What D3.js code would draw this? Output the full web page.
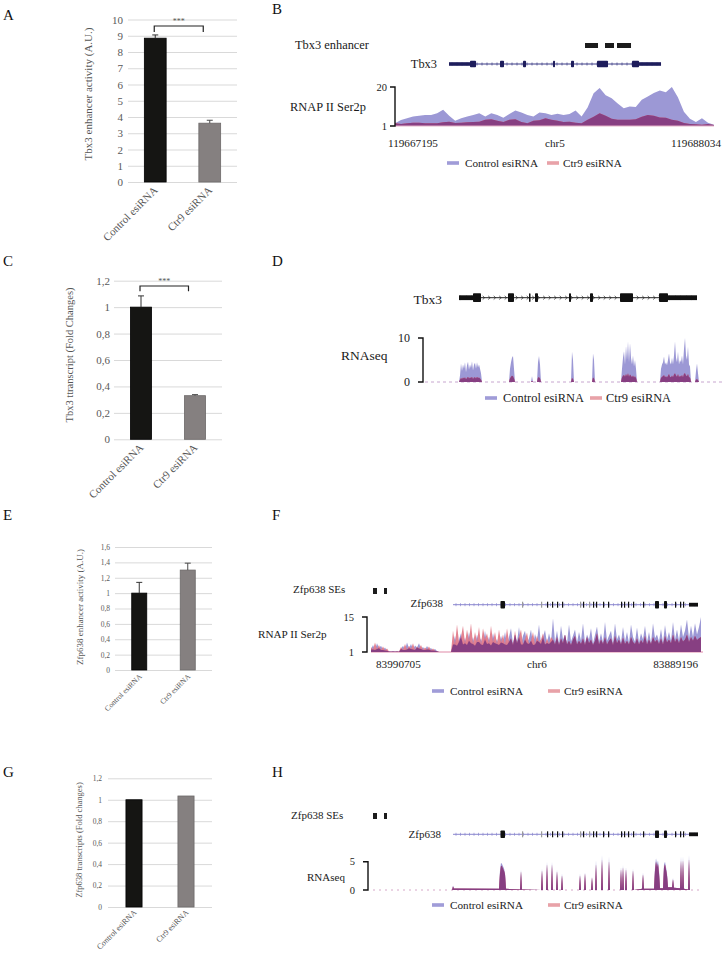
<!DOCTYPE html>
<html><head><meta charset="utf-8">
<script src="https://cdn.jsdelivr.net/npm/d3@7"></script>
<style>body{margin:0;background:#fff}</style>
</head><body>
<svg id="fig" width="722" height="953"></svg>
<script>
// ================= DATA =================
const conditions = ["Control esiRNA", "Ctr9 esiRNA"];

// Panel A
const tbx3EnhancerActivity = [8.85, 3.62];
const tbx3EnhancerErr = [0.2, 0.18];
const tbx3EnhancerTicks = [0,1,2,3,4,5,6,7,8,9,10];
// Panel C
const tbx3Transcript = [1.0, 0.33];
const tbx3TranscriptErr = [0.085, 0.008];
const tbx3TranscriptTicks = [0,0.2,0.4,0.6,0.8,1,1.2];
// Panel E
const zfpEnhancerActivity = [1.0, 1.30];
const zfpEnhancerErr = [0.14, 0.09];
const zfpEnhancerTicks = [0,0.2,0.4,0.6,0.8,1,1.2,1.4,1.6];
// Panel G
const zfpTranscript = [1.0, 1.035];
const zfpTranscriptTicks = [0,0.2,0.4,0.6,0.8,1,1.2];

// Panel B (RNAP II Ser2p, Tbx3 locus, chr5)
const tbx3Region = [119667195, 119688034];
const tbx3SerCtrl = [2.3,3.9,4.8,5.6,6.0,6.4,6.4,7.2,8.9,6.0,3.5,4.8,5.6,6.4,7.2,5.6,7.2,6.4,5.0,6.8,8.5,7.6,6.4,5.6,7.6,7.2,6.4,7.0,6.4,6.8,8.5,5.6,10.0,17.0,19.5,16.0,14.5,12.0,9.7,10.5,10.2,13.8,15.4,17.1,18.3,17.5,20.0,15.0,8.0,4.5,3.0,4.8,2.6,1.6];
const tbx3SerCtr9 = [2.6,2.0,2.4,2.6,2.6,2.3,2.3,2.3,2.8,3.1,2.5,2.6,2.8,3.0,3.1,4.0,4.3,3.5,3.0,4.0,4.3,3.0,2.4,3.5,3.8,4.8,4.0,3.5,3.0,3.1,2.6,2.3,4.0,5.5,7.2,6.0,4.5,4.0,4.0,4.0,4.3,5.5,6.4,6.0,5.2,5.0,4.0,3.5,2.5,2.0,1.8,1.6,2.0,1.5];
const tbx3Enhancers = [[119679608,119680457],[119680914,119681502],[119681698,119682613]];
const tbx3GeneSpanB = [119670723, 119684573];
const tbx3ExonsB = [[119670723,119672095,'u'],[119672095,119672487,'c'],[119674055,119674316,'c'],[119675557,119675753,'c'],[119677517,119677648,'c'],[119678693,119678889,'c'],[119680391,119681110,'c'],[119682678,119683136,'c'],[119683136,119684573,'u']];

// Panel D (RNAseq, Tbx3)
const tbx3RnaPos = [0,36,37,38,39,40,41,42,43,44,45,46,47,48,49,50,51,52,53,54,55,56,57,58,59,86,87,88,89,90,91,92,108,109,110,114,115,116,117,118,148,149,150,151,169,170,171,172,198,199,200,201,202,203,204,205,206,207,208,209,210,211,212,213,214,237,238,239,240,241,242,243,244,245,246,247,248,249,250,251,252,253,254,255,256,257,258,259,260,261,262,263,264,265,266,267,268,272,273,274,275,276,299];
const tbx3RnaCtrl = [0,0,1.5,4.2,2.5,4.0,3.0,4.5,2.2,3.8,4.6,2.8,4.0,3.2,4.7,2.6,3.9,4.4,3.0,4.5,3.3,4.0,3.0,2.0,0, 0,3.0,4.5,5.5,5.9,3.0,0, 0,1.3,0, 0,4.5,5.9,4.0,0, 0,6.9,5.0,0, 0,6.5,5.0,0, 0,3.0,5.5,7.0,4.0,8.2,5.0,9.2,4.5,8.8,5.5,4.0,6.0,3.5,5.0,3.0,0, 0,3.0,4.0,4.5,5.8,4.0,4.5,3.8,5.0,6.5,4.5,4.0,5.5,4.0,6.0,9.2,5.5,4.5,6.9,4.0,5.0,4.5,6.0,4.0,7.5,10,6.0,5.0,8.0,4.0,3.5,0, 0,2.5,4.2,2.0,0, 0];
const tbx3RnaCtr9 = [0,0,0.5,0.9,0.7,1.0,0.8,1.1,0.6,0.9,1.2,0.8,1.0,0.9,1.2,0.7,1.0,1.1,0.8,1.2,0.9,1.0,0.8,0.5,0, 0,0.8,1.2,1.4,1.3,0.8,0, 0,0.3,0, 0,1.0,1.1,0.8,0, 0,0.9,0.7,0, 0,1.0,0.8,0, 0,1.0,1.4,1.6,1.2,1.8,1.3,2.0,1.2,1.7,1.4,1.1,1.5,1.0,1.3,0.9,0, 0,0.9,1.2,1.3,1.6,1.1,1.3,1.0,1.4,1.8,1.2,1.1,1.5,1.1,1.7,2.0,1.5,1.2,1.8,1.1,1.4,1.2,1.6,1.1,1.9,2.0,1.5,1.3,1.8,1.1,1.0,0, 0,0.5,0.7,0.4,0, 0];
const tbx3GeneSpanD = [36, 274];
const tbx3ExonsD = [[36,50,'u'],[50,58,'c'],[85,91,'c'],[106,107.5,'c'],[112,115,'c'],[146,148,'c'],[167,170,'c'],[197,210,'c'],[236,245,'c'],[245,274,'u']];

// Panel F (RNAP II Ser2p, Zfp638 locus, chr6) - 2-unit bins
const zfpSerCtrl = [2.0,3.8,1.8,4.5,2.5,3.5,1.8,2.8,1.5,
  1.3,1.2,1.4,1.2,1.3,1.1,
  2.2,3.5,1.8,4.8,2.5,4.2,2.0,3.6,2.8,4.5,2.2,3.0,1.8,3.4,2.0,2.6,1.6,2.2,1.4,
  1.0,1.0,1.0,1.0,1.0,1.0,1.0,
  4.0,7.5,3.5,6.0,8.5,4.0,6.8,3.8,9.0,4.5,7.0,3.5,8.0,5.0,6.5,3.8,9.5,4.2,7.2,3.6,8.6,4.5,6.2,3.8,7.5,
  4.5,9.0,3.8,7.0,10.5,4.2,8.0,5.0,11.0,4.0,7.5,9.5,4.5,6.5,10.0,3.8,8.2,5.5,12.0,4.2,7.0,9.8,4.6,8.5,5.0,
  14.5,5.0,9.5,4.2,11.5,6.0,8.0,4.5,12.0,5.2,7.5,10.0,4.8,9.0,5.5,12.5,4.6,8.0,6.0,10.5,4.4,7.8,11.2,5.0,8.5,4.8,13.0,5.5,7.5,9.5,4.5,12.5,6.0,8.0,4.8,11.0,5.2,9.0,4.6,12.0,7.0,5.0,10.8,4.8,8.5,6.0,11.5,5.0,9.0,4.6,12.5,6.5,8.0,5.2,10.2,4.8,11.8,6.0,9.0,5.5,13.0,6.0,10.0,5.5,12.0,7.0,9.5,14.0,6.5,11.5,7.0,12.5,8.0,11.0,15.0];
const zfpSerCtr9 = [3.0,2.0,4.8,2.2,3.8,1.8,3.2,1.6,2.4,
  1.2,1.1,1.2,1.1,1.2,1.1,
  3.0,1.8,4.2,2.0,3.5,2.2,4.5,1.8,3.2,2.4,3.8,1.8,2.8,2.0,3.2,1.6,2.4,1.5,1.3,
  1.0,1.0,1.0,1.0,1.0,1.0,1.0,
  9.5,4.0,12.0,5.0,7.0,11.5,4.5,10.0,5.5,12.5,4.2,9.0,5.0,11.0,4.0,10.5,6.0,8.5,4.5,11.5,5.0,9.0,4.2,10.0,4.8,
  8.0,4.0,10.5,5.0,6.5,3.8,9.5,4.5,7.0,10.0,4.0,6.0,8.8,4.2,5.5,9.0,4.0,7.5,5.0,6.0,8.5,4.0,6.5,4.2,7.0,
  6.0,4.0,7.0,3.8,6.5,4.5,8.0,4.0,5.5,3.8,6.0,7.5,4.0,5.5,4.2,6.5,3.8,7.0,4.5,6.0,3.8,5.5,8.5,4.0,6.0,4.2,7.0,4.0,5.5,6.5,3.8,7.5,4.5,6.0,4.0,6.8,4.2,5.5,4.0,7.0,5.0,4.2,6.5,4.0,5.8,4.5,7.5,4.0,6.0,4.2,7.0,5.0,6.0,4.2,6.5,4.0,7.5,4.8,6.0,4.5,8.0,5.0,6.5,4.5,7.0,5.2,6.0,8.0,5.0,7.0,5.5,7.5,5.8,6.5,7.0];
const zfpBinSize = 2;
const zfpGeneSpan = [82, 327];
const zfpExons = [[129.5,134,'c'],[151,152,'g'],[170,171,'g'],[176,177,'t'],[181,182,'t'],[186,187,'t'],[191,192,'t'],[209,210,'g'],[212,213,'t'],[218,219,'g'],[222,223,'t'],[225,226,'t'],[232,233,'t'],[237,238,'t'],[250,251,'t'],[253,254,'t'],[257,258,'t'],[262,263,'t'],[272,273,'t'],[284,288,'c'],[293,296,'c'],[304,305,'t'],[309,310,'t'],[312,313,'t'],[318,327,'u']];
const zfpSEs = [[2,6],[13,16]];

// Panel H (RNAseq, Zfp638)
const zfpRnaPos = [0,81,82,83,128,129,130,131,132,133,134,135,149,150,151,170,171,172,175,176,177,180,181,182,185,186,187,190,191,192,208,209,210,213,214,215,220,221,222,224,225,226,230,231,232,237,238,239,249,250,251,252,253,254,255,256,261,262,263,271,272,273,283,284,285,286,287,288,289,292,293,294,295,296,297,301,302,303,309,310,311,312,313,317,318,319,332];
const zfpRnaCtrl = [0,0,0.8,0.25,0.2,3.5,4.8,4.6,4.2,3.8,3.0,0.2,0.1,3.6,0.1,0,3.8,0,0,5.0,0,0,5.0,0,0,3.6,0,0,2.9,0,0,2.9,0,0,3.2,0,0,2.4,0,0,5.3,0,0,6.2,0,0,5.9,0,0,4.1,0,4.4,0,0,4.1,0,0,3.8,0,0.2,3.1,0.2,0.2,4.0,5.6,4.5,5.2,3.5,0.3,0.3,4.5,5.0,4.0,3.0,0.5,0.5,2.1,0.4,0.3,5.9,0.3,5.9,0.2,0.1,6.2,0,0];
const zfpRnaCtr9 = [0,0,0.6,0.25,0.2,3.0,4.3,4.2,3.8,3.4,2.8,0.2,0.1,3.3,0.1,0,3.5,0,0,4.6,0,0,4.5,0,0,3.3,0,0,2.6,0,0,2.6,0,0,2.9,0,0,2.2,0,0,4.6,0,0,5.4,0,0,5.2,0,0,3.7,0,4.0,0,0,3.7,0,0,3.5,0,0.2,2.8,0.2,0.2,3.5,5.0,4.0,4.6,3.0,0.3,0.3,4.0,4.5,3.6,2.6,0.5,0.5,1.9,0.4,0.3,5.2,0.3,5.3,0.2,0.1,5.5,0,0];

// ================= STYLE =================
const SERIF = '"Liberation Serif","Times New Roman",serif';
const barFill = ['#151513', '#858080'];
const barStroke = ['#000000', '#6d6969'];
const COL_CTRL = '#9c98d5', COL_CTR9 = '#e07585', COL_OVER = '#873f82';
const LEG_CTRL = '#a09cd8', LEG_CTR9 = '#e8a2a8';

const svg = d3.select('#fig');
svg.append('rect').attr('width',722).attr('height',953).attr('fill','#fff');

function txt(g, x, y, s, fs, opt={}) {
  return g.append('text').attr('x', x).attr('y', y).text(s)
    .attr('font-family', SERIF).attr('font-size', fs)
    .attr('fill', opt.fill || '#1a1a1a')
    .attr('text-anchor', opt.anchor || 'start');
}

// panel letters
[['A',3,20],['B',272,14],['C',3,266],['D',272,266],['E',3,520],['F',272,520],['G',3,777],['H',272,777]]
  .forEach(d => txt(svg, d[1], d[2], d[0], 15, {fill:'#111'}));

// ================= BAR CHARTS =================
function barPanel(o) {
  const g = svg.append('g');
  const y = d3.scaleLinear().domain([0, d3.max(o.ticks)]).range([o.yb, o.yt]);
  const x = d3.scaleBand().domain(conditions).range([o.xl, o.xr]).paddingInner(o.pad).paddingOuter(o.pad/2);
  const ax = g.append('g').attr('transform', `translate(${o.xl},0)`)
    .call(d3.axisLeft(y).tickValues(o.ticks).tickSize(-(o.xr - o.xl)).tickPadding(o.tickPad)
      .tickFormat(d => String(d).replace('.', ',')));
  ax.select('.domain').remove();
  ax.selectAll('line').attr('stroke', '#d9d9d9').attr('stroke-width', 1);
  ax.selectAll('text').attr('font-family', SERIF).attr('font-size', o.tickFont).attr('fill', '#595959');
  g.selectAll('rect.bar').data(o.values).join('rect').attr('class','bar')
    .attr('x', (d,i) => x(conditions[i])).attr('width', x.bandwidth())
    .attr('y', d => y(d)).attr('height', d => y(0) - y(d))
    .attr('fill', (d,i) => barFill[i]).attr('stroke', (d,i) => barStroke[i]).attr('stroke-width', 0.8);
  if (o.errors) {
    o.values.forEach((v,i) => {
      const cx = x(conditions[i]) + x.bandwidth()/2;
      const col = i === 0 ? '#333' : '#4a4a4a';
      g.append('line').attr('x1',cx).attr('x2',cx).attr('y1',y(v)).attr('y2',y(v+o.errors[i])).attr('stroke',col).attr('stroke-width',1);
      g.append('line').attr('x1',cx-3).attr('x2',cx+3).attr('y1',y(v+o.errors[i])).attr('y2',y(v+o.errors[i])).attr('stroke',col).attr('stroke-width',1);
    });
  }
  conditions.forEach((c,i) => {
    const cx = x(c) + x.bandwidth()/2;
    g.append('text').attr('transform', `translate(${cx + o.xlDx},${y(0) + o.xlDy}) rotate(-45)`)
      .attr('text-anchor','end').attr('font-family', SERIF).attr('font-size', o.xFont).attr('fill', '#555').text(c);
  });
  g.append('text').attr('transform', `translate(${o.ylX},${o.ylY}) rotate(-90)`)
    .attr('text-anchor','middle').attr('font-family', SERIF).attr('font-size', o.yFont).attr('fill','#555').text(o.ylabel);
  if (o.sig) {
    const x1 = x(conditions[0]) + x.bandwidth()/2 - 1;
    const x2 = x(conditions[1]) + x.bandwidth()/2 - 6.5;
    const yb = y(o.sig[0]), yd = y(o.sig[1]);
    g.append('path').attr('d', `M${x1},${yd}V${yb}H${x2}V${yd}`).attr('fill','none').attr('stroke','#222').attr('stroke-width',1.2);
    txt(g, (x1+x2)/2, yb - 2, '***', 8, {anchor:'middle', fill:'#555'});
  }
}

barPanel({ticks: tbx3EnhancerTicks, values: tbx3EnhancerActivity, errors: tbx3EnhancerErr,
  yb:182, yt:19.5, xl:128, xr:237, pad:0.6, tickPad:5, tickFont:11, xFont:11, xlDx:3, xlDy:9,
  ylabel:'Tbx3 enhancer activity (A.U.)', ylX:92, ylY:94, yFont:11, sig:[9.6, 9.23]});
barPanel({ticks: tbx3TranscriptTicks, values: tbx3Transcript, errors: tbx3TranscriptErr,
  yb:439.3, yt:280.7, xl:114, xr:222, pad:0.61, tickPad:4, tickFont:11, xFont:11, xlDx:3, xlDy:9,
  ylabel:'Tbx3 ttranscript (Fold Changes)', ylX:73, ylY:355, yFont:10.5, sig:[1.16, 1.12]});
barPanel({ticks: zfpEnhancerTicks, values: zfpEnhancerActivity, errors: zfpEnhancerErr,
  yb:670, yt:547, xl:115, xr:212, pad:0.69, tickPad:5, tickFont:7.5, xFont:7.5, xlDx:3, xlDy:7,
  ylabel:'Zfp638 enhancer activity (A.U.)', ylX:83, ylY:607, yFont:9});
barPanel({ticks: zfpTranscriptTicks, values: zfpTranscript, errors: null,
  yb:907, yt:778.3, xl:108, xr:212, pad:0.69, tickPad:6, tickFont:7.5, xFont:8, xlDx:3, xlDy:6,
  ylabel:'Zfp638 transcripts (Fold changes)', ylX:82, ylY:840, yFont:8.5});

// ================= GENOME TRACKS =================
function areas(g, xs, ys, pos, ctrl, ctr9, base) {
  const over = ctrl.map((v,i) => Math.min(v, ctr9[i]));
  const mk = arr => d3.area().x((d,i) => xs(pos[i])).y0(ys(base)).y1(d => ys(d))(arr);
  g.append('path').attr('d', mk(ctrl)).attr('fill', COL_CTRL);
  g.append('path').attr('d', mk(ctr9)).attr('fill', COL_CTR9).attr('opacity', 0.9);
  g.append('path').attr('d', mk(over)).attr('fill', COL_OVER);
}
function trackAxis(g, ys, ax, labX, fs) {
  const [lo, hi] = ys.domain();
  g.append('path').attr('d', `M${ax-5},${ys(hi)}H${ax}V${ys(lo)}H${ax-5}`).attr('fill','none').attr('stroke','#111').attr('stroke-width',1.4);
  txt(g, labX, ys(hi), String(hi), fs, {anchor:'end'}).attr('dy','0.35em');
  txt(g, labX, ys(lo), String(lo), fs, {anchor:'end'}).attr('dy','0.35em');
}
function gene(g, xs, yc, span, exons, o) {
  g.append('line').attr('x1', xs(span[0])).attr('x2', xs(span[1])).attr('y1', yc).attr('y2', yc)
    .attr('stroke', o.intron).attr('stroke-width', 1);
  for (let px = xs(span[0]) + 3; px < xs(span[1]) - 2; px += o.step) {
    if (o.chev) g.append('path').attr('d', `M${px-1.3},${yc-1.8}L${px+0.7},${yc}L${px-1.3},${yc+1.8}`).attr('fill','none').attr('stroke', o.intron).attr('stroke-width', 0.7);
    else g.append('line').attr('x1', px).attr('x2', px).attr('y1', yc-1.5).attr('y2', yc+1.5).attr('stroke', o.intron).attr('stroke-width', 0.7);
  }
  exons.forEach(e => {
    const h = o.h[e[2]];
    const col = e[2] === 'g' ? '#9a9a9a' : o.exon;
    g.append('rect').attr('x', xs(e[0])).attr('width', Math.max(1.2, xs(e[1]) - xs(e[0])))
      .attr('y', yc - h/2).attr('height', h).attr('fill', col).attr('rx', e[2] === 'c' ? 0.8 : 0);
  });
}
function legend(g, x1, x2, y, fs) {
  g.append('rect').attr('x', x1).attr('y', y-1.8).attr('width', 12).attr('height', 3.6).attr('fill', LEG_CTRL);
  txt(g, x1 + 18, y + fs*0.33, conditions[0], fs, {fill:'#222'});
  g.append('rect').attr('x', x2).attr('y', y-1.8).attr('width', 12).attr('height', 3.6).attr('fill', LEG_CTR9);
  txt(g, x2 + 16, y + fs*0.33, conditions[1], fs, {fill:'#222'});
}

// ---- Panel B ----
{
  const g = svg.append('g');
  const xs = d3.scaleLinear().domain(tbx3Region).range([395, 714]);
  const ys = d3.scaleLinear().domain([1, 20]).range([126, 87]);
  const pos = tbx3SerCtrl.map((d,i) => tbx3Region[0] + i * (tbx3Region[1]-tbx3Region[0]) / (tbx3SerCtrl.length-1));
  txt(g, 295, 49, 'Tbx3 enhancer', 12.4);
  tbx3Enhancers.forEach(e => g.append('rect').attr('x', xs(e[0])).attr('width', xs(e[1])-xs(e[0])).attr('y', 43).attr('height', 5).attr('fill', '#1c1c1c'));
  txt(g, 437, 68, 'Tbx3', 12.4, {anchor:'end'});
  gene(g, xs, 64, tbx3GeneSpanB, tbx3ExonsB, {intron:'#3d3c86', exon:'#1e1d5c', step:5, chev:false, h:{u:3.6,c:6.5}});
  txt(g, 290, 111, 'RNAP II Ser2p', 12.4);
  areas(g, xs, ys, pos, tbx3SerCtrl, tbx3SerCtr9, 1);
  g.append('line').attr('x1', 395).attr('x2', 714).attr('y1', ys(1)).attr('y2', ys(1)).attr('stroke', '#e4b3c8').attr('stroke-width', 1);
  trackAxis(g, ys, 395, 387, 10.5);
  txt(g, 388, 147, String(tbx3Region[0]), 11.2);
  txt(g, 555, 147, 'chr5', 11.2, {anchor:'middle'});
  txt(g, 721, 147, String(tbx3Region[1]), 11.2, {anchor:'end'});
  legend(g, 447, 547, 163, 11.2);
}

// ---- Panel D ----
{
  const g = svg.append('g');
  const xs = d3.scaleLinear().domain([0, 299]).range([423, 722]);
  const ys = d3.scaleLinear().domain([0, 10]).range([382, 338]);
  txt(g, 442, 304, 'Tbx3', 13.5, {anchor:'end'});
  gene(g, xs, 297.7, tbx3GeneSpanD, tbx3ExonsD, {intron:'#222', exon:'#111', step:5.5, chev:true, h:{u:4.8,c:8.8}});
  txt(g, 341, 360, 'RNAseq', 13.5);
  g.append('line').attr('x1', 425).attr('x2', 722).attr('y1', ys(0)).attr('y2', ys(0)).attr('stroke', '#c7a6cf').attr('stroke-width', 1).attr('stroke-dasharray', '3,3');
  areas(g, xs, ys, tbx3RnaPos, tbx3RnaCtrl, tbx3RnaCtr9, 0);
  trackAxis(g, ys, 423, 410, 12);
  legend(g, 485, 590, 398, 12.4);
}

// ---- Panel F ----
{
  const g = svg.append('g');
  const xs = d3.scaleLinear().domain([0, 332]).range([371, 703]);
  const ys = d3.scaleLinear().domain([1, 15]).range([652, 617]);
  const pos = zfpSerCtrl.map((d,i) => i * zfpBinSize);
  txt(g, 293, 593, 'Zfp638 SEs', 11);
  zfpSEs.forEach(e => g.append('rect').attr('x', xs(e[0])).attr('width', xs(e[1])-xs(e[0])).attr('y', 588).attr('height', 6).attr('fill', '#1c1c1c'));
  txt(g, 443, 607, 'Zfp638', 11, {anchor:'end'});
  gene(g, xs, 604.7, zfpGeneSpan, zfpExons, {intron:'#8a87cf', exon:'#111', step:4.5, chev:false, h:{u:3.8,c:7.5,t:6,g:6}});
  txt(g, 258, 638, 'RNAP II Ser2p', 11.2);
  g.append('line').attr('x1', 371).attr('x2', 703).attr('y1', ys(1)).attr('y2', ys(1)).attr('stroke', '#e08aa8').attr('stroke-width', 1.2);
  areas(g, xs, ys, pos, zfpSerCtrl, zfpSerCtr9, 1);
  trackAxis(g, ys, 367, 354, 10.5);
  txt(g, 376, 668, '83990705', 11.2);
  txt(g, 537, 668, 'chr6', 11.2, {anchor:'middle'});
  txt(g, 698, 668, '83889196', 11.2, {anchor:'end'});
  legend(g, 432, 548, 691, 11.2);
}

// ---- Panel H ----
{
  const g = svg.append('g');
  const xs = d3.scaleLinear().domain([0, 332]).range([371, 703]);
  const ys = d3.scaleLinear().domain([0, 5]).range([890, 861.7]);
  txt(g, 291, 819, 'Zfp638 SEs', 11);
  zfpSEs.forEach(e => g.append('rect').attr('x', xs(e[0])).attr('width', xs(e[1])-xs(e[0])).attr('y', 813).attr('height', 6).attr('fill', '#1c1c1c'));
  txt(g, 441, 838, 'Zfp638', 11, {anchor:'end'});
  gene(g, xs, 834.3, zfpGeneSpan, zfpExons, {intron:'#8a87cf', exon:'#111', step:4.5, chev:false, h:{u:3.8,c:7.5,t:6,g:6}});
  txt(g, 307, 881, 'RNAseq', 11);
  g.append('line').attr('x1', 373).attr('x2', 703).attr('y1', ys(0)).attr('y2', ys(0)).attr('stroke', '#d6a8c8').attr('stroke-width', 1).attr('stroke-dasharray', '2,4');
  areas(g, xs, ys, zfpRnaPos, zfpRnaCtrl, zfpRnaCtr9, 0);
  trackAxis(g, ys, 368, 355, 10.5);
  legend(g, 432, 548, 905, 11.2);
}
</script>
</body></html>
